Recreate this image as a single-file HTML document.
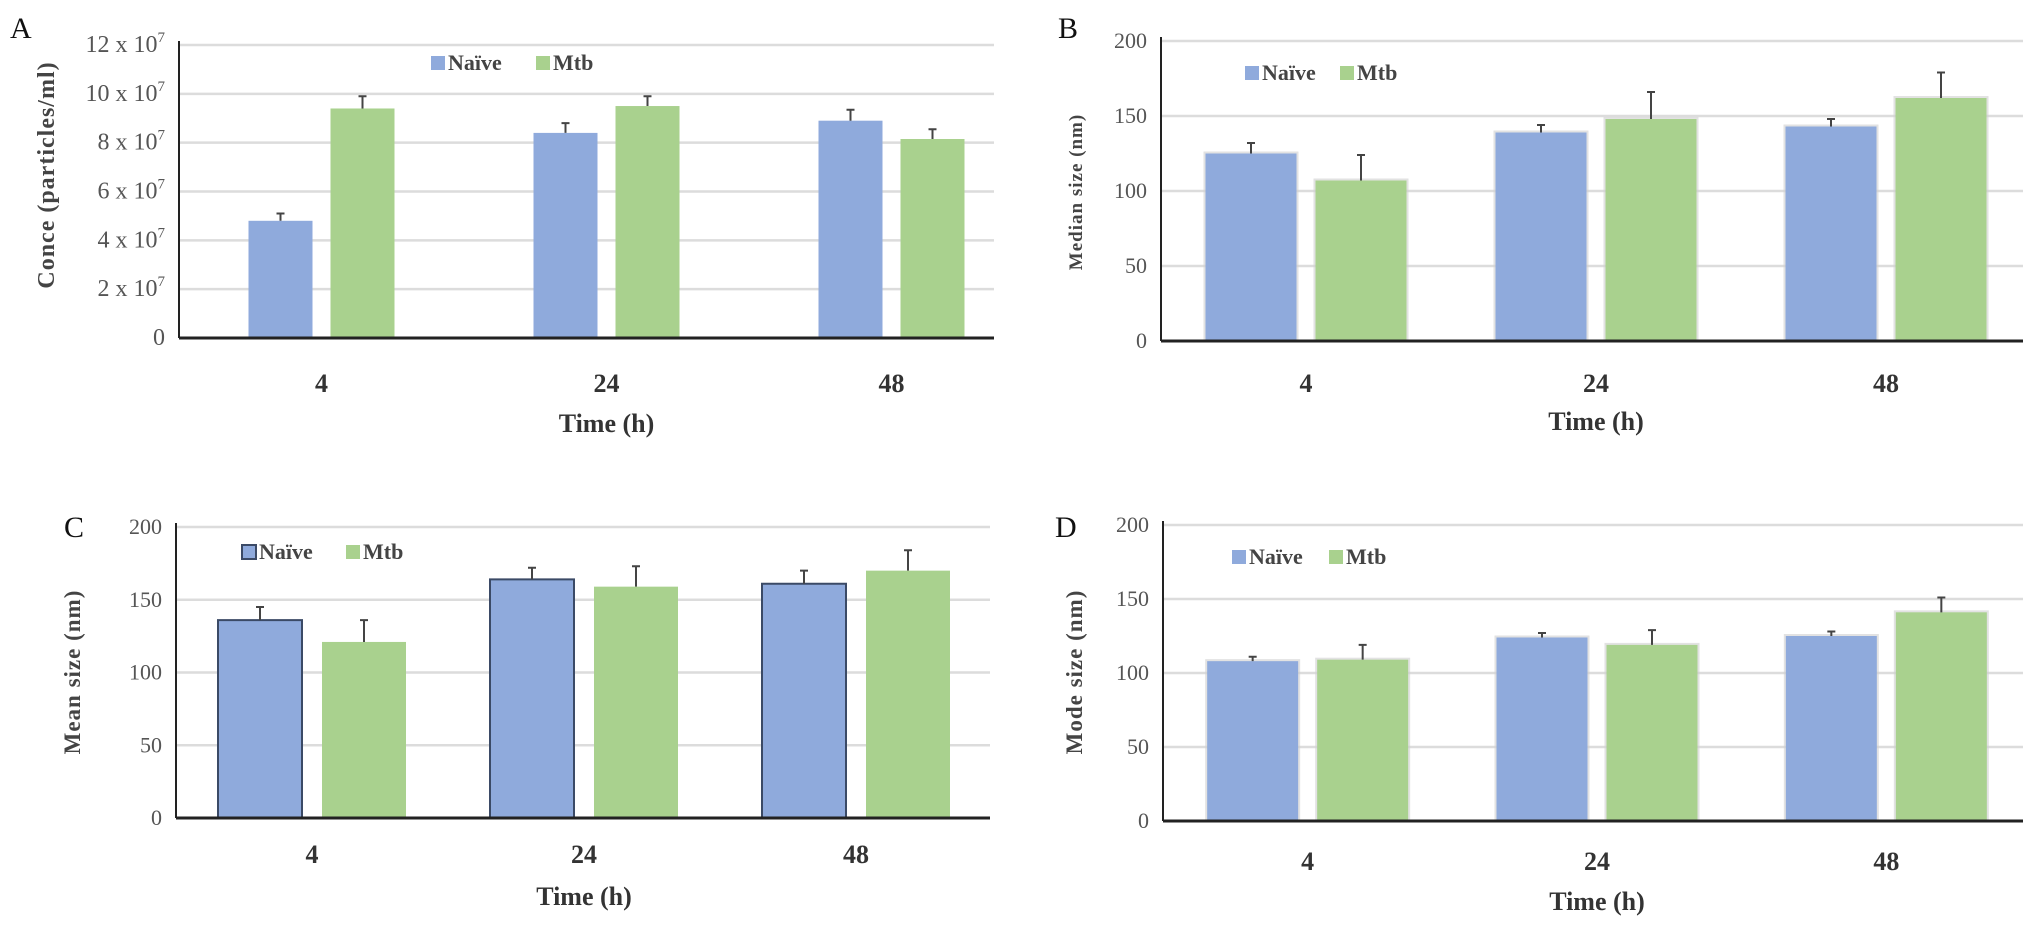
<!DOCTYPE html>
<html><head><meta charset="utf-8"><style>
html,body{margin:0;padding:0;background:#fff;width:2031px;height:927px;overflow:hidden}
svg{display:block}
text{font-family:"Liberation Serif",serif}
</style></head><body>
<svg id="fig" width="2031" height="927" viewBox="0 0 2031 927"></svg>
<script>
const categories = ["4","24","48"];
const seriesNames = ["Naïve","Mtb"];
// Panel A
const aNaive = [4.8, 8.4, 8.9];
const aMtb = [9.4, 9.5, 8.15];
const aNaiveErr = [0.3, 0.4, 0.45];
const aMtbErr = [0.5, 0.4, 0.4];
const aTicks = [0, 2, 4, 6, 8, 10, 12];
// Panel B
const bNaive = [125, 139, 143];
const bMtb = [107, 148, 162];
const bNaiveErr = [7, 5, 5];
const bMtbErr = [17, 18, 17];
// Panel C
const cNaive = [136, 164, 161];
const cMtb = [121, 159, 170];
const cNaiveErr = [9, 8, 9];
const cMtbErr = [15, 14, 14];
// Panel D
const dNaive = [108, 124, 125];
const dMtb = [109, 119, 141];
const dNaiveErr = [3, 3, 3];
const dMtbErr = [10, 10, 10];
const sizeTicks = [0, 50, 100, 150, 200];

const NS = "http://www.w3.org/2000/svg";
const svg = document.getElementById("fig");
const BLUE = "#8faadc", GREEN = "#a9d18e";
function el(tag, attrs, parent, txt){
  const e = document.createElementNS(NS, tag);
  for (const k in attrs) e.setAttribute(k, attrs[k]);
  if (txt !== undefined) e.textContent = txt;
  (parent || svg).appendChild(e);
  return e;
}
function panel(p){
  const g = el("g", {});
  
  
  const y = v => p.y0 - (v - p.min) / (p.max - p.min) * (p.y0 - p.yTop);
  const gw = (p.x1 - p.x0) / categories.length;
  const xc = i => p.x0 + gw * (i + 0.5);
  const L = el("text", {x:p.letterX, y:p.letterY, "font-family":"Liberation Sans, sans-serif", "font-size":30, fill:"#111"}, g, p.id);
  
  
  p.ticks.forEach(t => {
    if (t !== p.min) {
      const gl = el("line", {x1:p.x0, x2:p.gridEnd, y1:y(t), y2:y(t), stroke:"#dcdcdc", "stroke-width":2.5}, g);
      
      
    }
    const tx = el("text", {x:p.x0 - 14, y:y(t) + 7, "text-anchor":"end", "font-size":p.tickSize, fill:"#555"}, g);
    
    
    if (p.sci && t !== 0) {
      tx.textContent = t + " x 10";
      el("tspan", {dy:-10, "font-size":15}, tx, "7");
    } else tx.textContent = t;
  });
  const series = [[p.naive, p.naiveErr, BLUE], [p.mtb, p.mtbErr, GREEN]];
  series.forEach((s, si) => {
    s[0].forEach((v, i) => {
      const bx = si === 0 ? xc(i) - p.gap/2 - p.bw : xc(i) + p.gap/2;
      if (p.shadow) {
        const sh = el("rect", {x:bx - 2, y:y(v) - 2, width:p.bw + 4, height:p.y0 - y(v) + 2, fill:"#cfcfcf", opacity:0.6}, g);
        
        
      }
      const r = el("rect", {x:bx, y:y(v), width:p.bw, height:p.y0 - y(v), fill:s[2]}, g);
      if (p.outline && si === 0) { r.setAttribute("stroke", "#3b4a66"); r.setAttribute("stroke-width", 2); }
      
      
      const cx = bx + p.bw / 2, top = y(v + s[1][i]);
      const eb = el("path", {d:`M${cx},${y(v)}V${top}M${cx-4},${top}H${cx+4}`, stroke:"#444", "stroke-width":2, fill:"none"}, g);
      
      
    });
  });
  const ya = el("line", {x1:p.x0, x2:p.x0, y1:p.yTop - 4, y2:p.y0, stroke:"#222", "stroke-width":2}, g);
  
  
  const xa = el("line", {x1:p.x0, x2:p.gridEnd, y1:p.y0, y2:p.y0, stroke:"#222", "stroke-width":3}, g);
  
  
  categories.forEach((c, i) => {
    const t = el("text", {x:xc(i), y:p.xLabY, "text-anchor":"middle", "font-size":26, "font-weight":"bold", fill:"#333"}, g, c);
    
    
  });
  const xt = el("text", {x:xc(1), y:p.xTitleY, "text-anchor":"middle", "font-size":26, "font-weight":"bold", fill:"#333"}, g, "Time (h)");
  
  
  const yt = el("text", {x:0, y:0, "text-anchor":"middle", "font-size":p.ytSize, "font-weight":"bold", fill:"#444", "letter-spacing":1,
    transform:`translate(${p.ytX},${p.ytY}) rotate(-90)`}, g, p.ytitle);
  
  
  const lg = el("g", {}, g);
  
  
  let lx = p.legX;
  seriesNames.forEach((n, si) => {
    const sq = el("rect", {x:lx, y:p.legY - 14, width:14, height:14, fill:si ? GREEN : BLUE}, lg);
    if (p.outline && si === 0) { sq.setAttribute("stroke", "#3b4a66"); sq.setAttribute("stroke-width", 2); }
    
    
    const t = el("text", {x:lx + 17, y:p.legY, "font-size":22, "font-weight":"bold", fill:"#444"}, lg, n);
    
    
    lx += si === 0 ? p.legStep : 0;
  });
}
panel({id:"A", naive:aNaive, mtb:aMtb, naiveErr:aNaiveErr, mtbErr:aMtbErr, ticks:aTicks, min:0, max:12, sci:true, tickSize:24,
  x0:179, x1:1034, gridEnd:994, y0:338, yTop:45, bw:64, gap:18, outline:false, shadow:false,
  letterX:10, letterY:38, xLabY:392, xTitleY:432, ytitle:"Conce (particles/ml)", ytX:54, ytY:175, ytSize:24,
  legX:431, legY:70, legStep:105});
panel({id:"B", naive:bNaive, mtb:bMtb, naiveErr:bNaiveErr, mtbErr:bMtbErr, ticks:sizeTicks, min:0, max:200, tickSize:22,
  x0:1161, x1:2031, gridEnd:2023, y0:341, yTop:41, bw:91, gap:19, outline:false, shadow:true,
  letterX:1058, letterY:38, xLabY:392, xTitleY:430, ytitle:"Median size (nm)", ytX:1082, ytY:192, ytSize:19,
  legX:1245, legY:80, legStep:95});
panel({id:"C", naive:cNaive, mtb:cMtb, naiveErr:cNaiveErr, mtbErr:cMtbErr, ticks:sizeTicks, min:0, max:200, tickSize:22,
  x0:176, x1:992, gridEnd:990, y0:818, yTop:527, bw:84, gap:20, outline:true, shadow:false,
  letterX:64, letterY:537, xLabY:863, xTitleY:905, ytitle:"Mean size (nm)", ytX:80, ytY:672, ytSize:23,
  legX:242, legY:559, legStep:104});
panel({id:"D", naive:dNaive, mtb:dMtb, naiveErr:dNaiveErr, mtbErr:dMtbErr, ticks:sizeTicks, min:0, max:200, tickSize:22,
  x0:1163, x1:2031, gridEnd:2023, y0:821, yTop:525, bw:91, gap:19, outline:false, shadow:true,
  letterX:1055, letterY:537, xLabY:870, xTitleY:910, ytitle:"Mode size (nm)", ytX:1082, ytY:672, ytSize:23,
  legX:1232, legY:564, legStep:97});
</script>
</body></html>
